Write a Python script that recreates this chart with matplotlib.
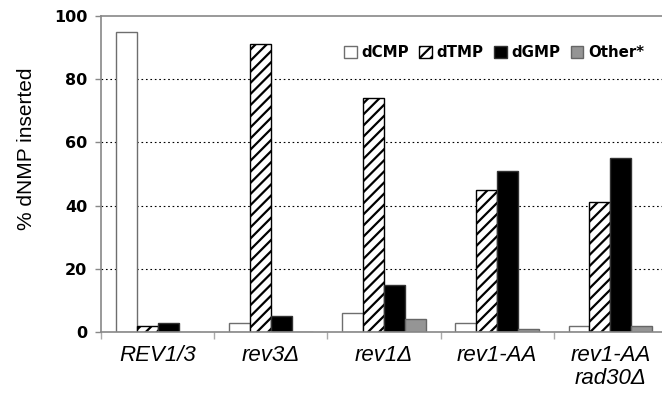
import matplotlib
matplotlib.use("Agg")
import matplotlib.pyplot as plt
import numpy as np

# data
strains = ["REV1/3", "rev3\u0394", "rev1\u0394", "rev1-AA", "rev1-AA\nrad30\u0394"]
dcmp = [95, 3, 6, 3, 2]
dtmp = [2, 91, 74, 45, 41]
dgmp = [3, 5, 15, 51, 55]
other = [0, 0, 4, 1, 2]

series = [
    ("dCMP", dcmp, dict(facecolor="white", edgecolor="#6e6e6e", hatch=None)),
    ("dTMP", dtmp, dict(facecolor="white", edgecolor="black", hatch="///")),
    ("dGMP", dgmp, dict(facecolor="black", edgecolor="#333333", hatch=None)),
    ("Other*", other, dict(facecolor="#959595", edgecolor="#666666", hatch=None)),
]

plt.rcParams["hatch.linewidth"] = 1.6

fig = plt.figure(figsize=(6.62, 3.98), dpi=100)
ax = fig.add_axes([0.1526, 0.1658, 0.855, 0.794])

x = np.arange(len(strains))
width = 0.185
for i, (name, vals, style) in enumerate(series):
    ax.bar(x + (i - 1.5) * width, vals, width, label=name, linewidth=1.0,
           zorder=3, **style)

ax.set_xlim(-0.5, len(strains) - 0.5)
ax.set_ylim(0, 100)
ax.set_yticks(range(0, 101, 20))
ax.set_yticklabels([str(v) for v in range(0, 101, 20)],
                   fontfamily="DejaVu Sans", fontweight="bold", fontsize=11.5)

ax.set_xticks(x)
ax.set_xticklabels(strains, fontfamily="Liberation Sans", style="italic",
                   fontsize=16, linespacing=1.15)
ax.set_xticks(np.arange(len(strains) + 1) - 0.5, minor=True)
ax.tick_params(axis="x", which="major", length=0, pad=9)
ax.tick_params(axis="x", which="minor", length=5, color="#aaaaaa", width=1)
ax.tick_params(axis="y", length=4, color="#888888", width=1, pad=6)

for yv in range(20, 100, 20):
    ax.axhline(yv, color="black", linestyle=(0, (1.5, 2.5)), linewidth=0.8,
               zorder=1)

for side in ["left", "bottom", "top"]:
    ax.spines[side].set_color("#888888")
    ax.spines[side].set_linewidth(1.2)
    ax.spines[side].set_zorder(4)
ax.spines["right"].set_visible(False)

ax.set_ylabel("% dNMP inserted", fontfamily="Liberation Sans", fontsize=15)
ax.yaxis.set_label_coords(-0.114, 0.579)

leg = ax.legend(loc="center", bbox_to_anchor=(0.694, 0.883), ncol=4,
                frameon=False, handlelength=0.85, handleheight=0.85,
                handletextpad=0.3, columnspacing=0.7,
                prop=dict(family="DejaVu Sans", weight="bold", size=10.8))

fig.savefig("out.png", dpi=100)
